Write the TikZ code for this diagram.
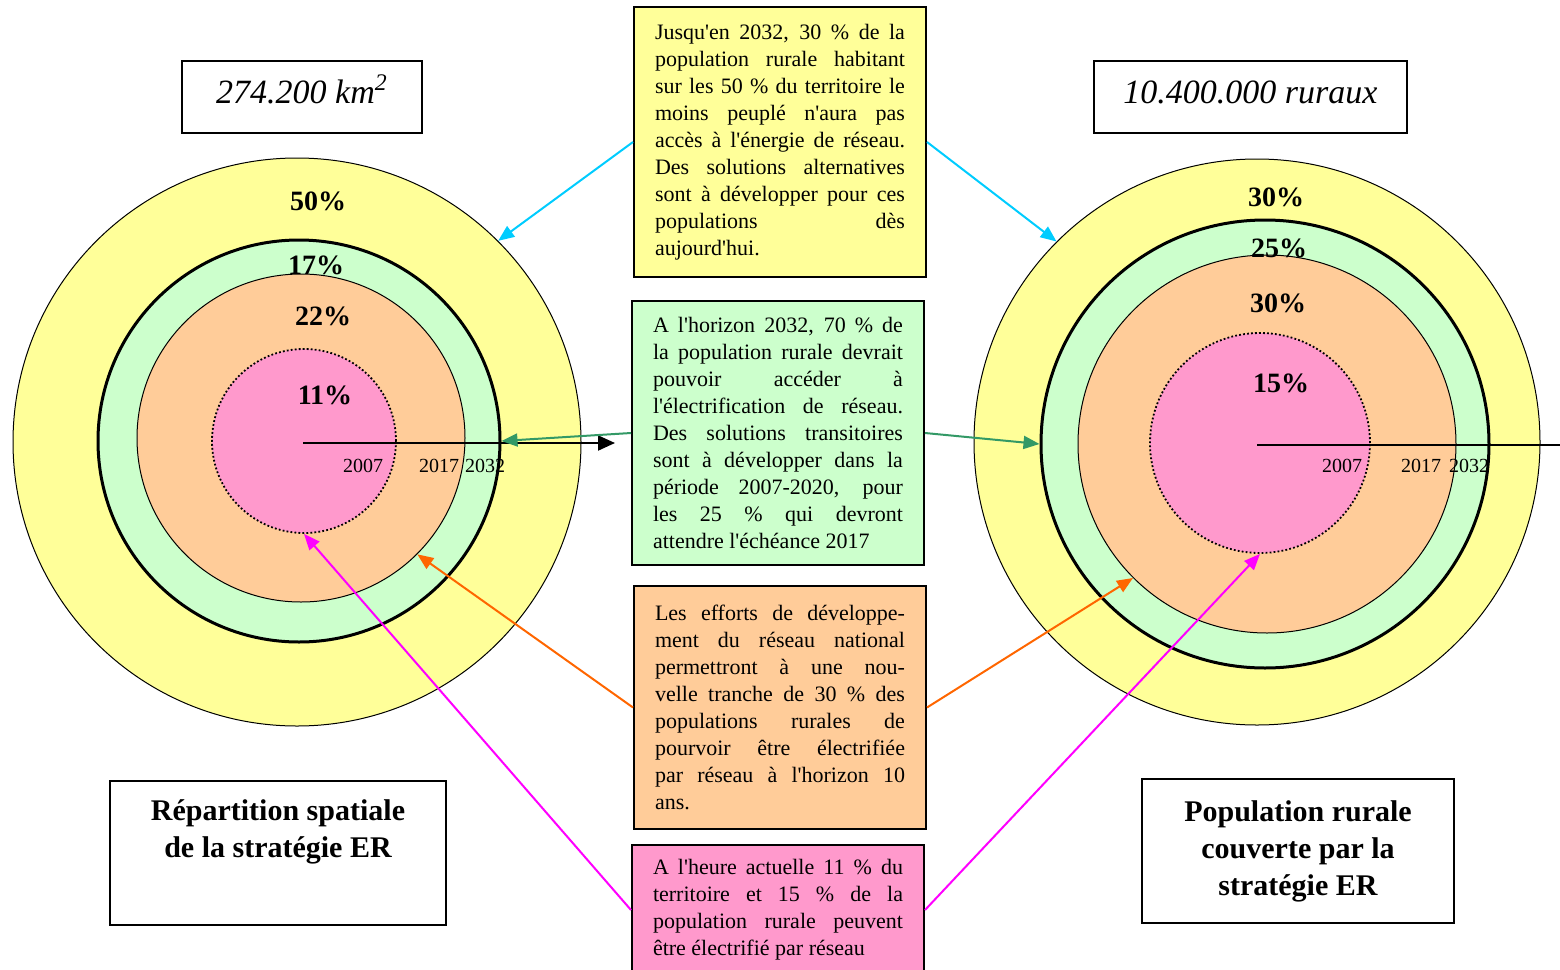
\documentclass[tikz,border=0pt]{standalone}
\usepackage{fontspec}
\setmainfont{Liberation Serif}
\usetikzlibrary{arrows.meta,positioning}

\definecolor{zyellow}{HTML}{FFFF99}
\definecolor{zgreen}{HTML}{CCFFCC}
\definecolor{zorange}{HTML}{FFCC99}
\definecolor{zpink}{HTML}{FF99CC}
\definecolor{acyan}{HTML}{00CCFF}
\definecolor{agreen}{HTML}{339966}
\definecolor{aorange}{HTML}{FF6600}
\definecolor{amagenta}{HTML}{FF00FF}

% straight apostrophe, forced justified line end
\newcommand{\ap}{\textquotesingle}
\newcommand{\jb}{\linebreak}
\tolerance=10000\relax
\hbadness=10000\relax

\begin{document}
\begin{tikzpicture}[x=0.5pt,y=-0.5pt,
            ring/.style={circle,draw,inner sep=0pt,line width=0.5pt},
            dots/.style={line width=0.9pt,dash pattern=on 0.9pt off 1.1pt},
            txtbox/.style={draw,line width=1pt,text width=125pt,inner xsep=10.5pt,inner ysep=0pt,align=justify,
              font=\fontsize{11}{13.5}\selectfont},
            titlebox/.style={draw,line width=1pt,minimum height=36pt,text height=12pt,text depth=5.5pt,font=\fontsize{17}{20}\selectfont\itshape},
            capbox/.style={draw,line width=1pt,minimum height=72pt,align=center,font=\fontsize{15}{18.5}\selectfont\bfseries},
            pct/.style={font=\fontsize{14}{16}\selectfont\bfseries},
            yr/.style={font=\fontsize{10}{12}\selectfont},
            conn/.style={-{Triangle[length=8pt,width=6.5pt]},line width=1pt}
  ]
  \useasboundingbox (0,0) rectangle (1560,970);

  % left rings
  \node[ring, fill=zyellow, minimum size=284pt] (lyel) at (297,442) {};
  \node[ring, fill=zgreen, line width=1.5pt, minimum size=201pt] (lgrn) at (299,441) {};
  \node[ring, fill=zorange, minimum size=164pt] (lorg) at (301,438) {};
  \node[ring, fill=zpink, dots, minimum size=92pt] (lpnk) at (304,441) {};

  % right rings
  \node[ring, fill=zyellow, minimum size=283pt] (ryel) at (1257,442) {};
  \node[ring, fill=zgreen, line width=1.5pt, minimum size=224pt] (rgrn) at (1265,444) {};
  \node[ring, fill=zorange, minimum size=189pt] (rorg) at (1267,444) {};
  \node[ring, fill=zpink, dots, minimum size=110pt] (rpnk) at (1260,443) {};

  \coordinate (lo) at (303,443);
  \coordinate (lax) at (615,443);
  \coordinate (ro) at (1257,445);
  \coordinate (rax) at (1580,445);
  \draw[conn, -{Triangle[length=8.5pt,width=7.5pt]}] (lo) -- (lax);
  \draw[line width=1pt] (ro) -- (rax);

  \node[yr] (l07) at (363,466) {2007};
  \node[yr] (l17) at (439,466) {2017};
  \node[yr] (l32) at (485,466) {2032};
  \node[yr] (r07) at (1342,466) {2007};
  \node[yr] (r17) at (1421,466) {2017};
  \node[yr] (r32) at (1469,466) {2032};

  \node[pct] (l50) at (318,201) {50\%};
  \node[pct] (l17p) at (316,265) {17\%};
  \node[pct] (l22) at (323,316) {22\%};
  \node[pct] (l11) at (325,395) {11\%};
  \node[pct] (r30a) at (1276,197) {30\%};
  \node[pct] (r25) at (1279,248) {25\%};
  \node[pct] (r30b) at (1278,303) {30\%};
  \node[pct] (r15) at (1281,383) {15\%};

  \node[titlebox, minimum width=120pt] (ltitle) at (302,97) {274.200 km\textsuperscript{2}};
  \node[titlebox, minimum width=156.5pt] (rtitle) at (1250.5,97) {10.400.000 ruraux};

  \node[capbox, minimum width=168pt] (lcap) at (278,853) {Répartition spatiale\\de la stratégie ER\\\strut};
  \node[capbox, minimum width=156pt] (rcap) at (1298,851) {Population rurale\\couverte par la\\stratégie ER};

  \node[txtbox, fill=zyellow, minimum height=135pt] (yeltxt) at (780,142) {%
    Jusqu\ap{}en 2032, 30 \% de la\jb
    population rurale habitant\jb
    sur les 50 \% du territoire le\jb
    moins peuplé n\ap{}aura pas\jb
    accès à l\ap{}énergie de réseau.\jb
    Des solutions alternatives\jb
    sont à développer pour ces\jb
    populations dès\jb
    aujourd\ap{}hui.};
  \node[txtbox, fill=zgreen, minimum height=132pt] (grntxt) at (778,433) {%
    A l\ap{}horizon 2032, 70 \% de\jb
    la population rurale devrait\jb
    pouvoir accéder à\jb
    l\ap{}électrification de réseau.\jb
    Des solutions transitoires\jb
    sont à développer dans la\jb
    période 2007-2020, pour\jb
    les 25 \% qui devront\jb
    attendre l\ap{}échéance 2017};
  \node[txtbox, fill=zorange, minimum height=121.5pt] (orgtxt) at (780,707.5) {%
    Les efforts de développe-\jb
    ment du réseau national\jb
    permettront à une nou-\jb
    velle tranche de 30 \% des\jb
    populations rurales de\jb
    pourvoir être électrifiée\jb
    par réseau à l\ap{}horizon 10\jb
    ans.};
  \node[txtbox, fill=zpink, minimum height=65pt] (pnktxt) at (778,910) {%
    A l\ap{}heure actuelle 11 \% du\jb
    territoire et 15 \% de la\jb
    population rurale peuvent\jb
    être électrifié par réseau};

  \draw[conn, acyan] (yeltxt.west) -- (lyel.45);
  \draw[conn, acyan] (yeltxt.east) -- (ryel.135);
  \draw[conn, agreen] (grntxt.west) -- (lgrn.east);
  \draw[conn, agreen] (grntxt.east) -- (rgrn.west);
  \draw[conn, aorange] (orgtxt.west) -- (lorg.-45);
  \draw[conn, aorange] (orgtxt.east) -- (rorg.-135);
  \draw[conn, amagenta] (pnktxt.west) -- (lpnk.south);
  \draw[conn, amagenta] (pnktxt.east) -- (rpnk.south);

\end{tikzpicture}
\end{document}
